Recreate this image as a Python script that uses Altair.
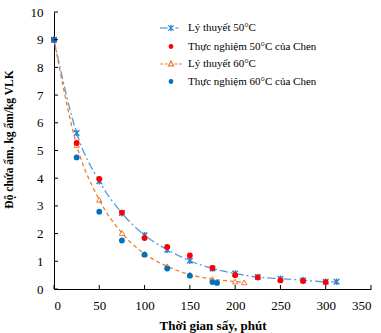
import altair as alt
import pandas as pd

# ---- data ----
t_th50 = [0, 25, 50, 75, 100, 125, 150, 175, 200, 225, 250, 275, 300, 312]
v_th50 = [9.0, 5.63, 3.89, 2.74, 1.94, 1.42, 1.02, 0.74, 0.56, 0.43, 0.37, 0.32, 0.26, 0.26]
t_ex50 = [0, 25, 50, 75, 100, 125, 150, 175, 200, 225, 250, 275, 300]
v_ex50 = [9.0, 5.27, 3.97, 2.76, 1.84, 1.52, 1.21, 0.76, 0.50, 0.42, 0.31, 0.29, 0.25]
t_th60 = [0, 25, 50, 75, 100, 125, 150, 175, 200, 210]
v_th60 = [9.0, 5.20, 3.22, 2.02, 1.27, 0.82, 0.52, 0.36, 0.27, 0.24]
t_ex60 = [0, 25, 50, 75, 100, 125, 150, 175, 180]
v_ex60 = [9.0, 4.75, 2.79, 1.75, 1.24, 0.74, 0.48, 0.25, 0.22]

series_names = [
    "Lý thuyết 50°C",
    "Thực nghiệm 50°C của Chen",
    "Lý thuyết 60°C",
    "Thực nghiệm 60°C của Chen",
]
x_ticks = [0, 50, 100, 150, 200, 250, 300, 350]
y_ticks = [0, 1, 2, 3, 4, 5, 6, 7, 8, 9, 10]

x_title = "Thời gian sấy, phút"
y_title = "Độ chứa ẩm, kg ẩm/kg VLK"

# ---- styles ----
C_TH50_LINE = "#5B9BD5"
C_TH50_MARK = "#2F7FD0"
C_EX50 = "#FF0000"
C_TH60 = "#ED7D31"
C_EX60 = "#0070C0"
FONT = "Liberation Serif"

W, H = 317, 277

def frame(ts, vs, name):
    return pd.DataFrame({"t": ts, "v": vs, "series": name})

df = pd.concat([
    frame(t_th50, v_th50, series_names[0]),
    frame(t_ex50, v_ex50, series_names[1]),
    frame(t_th60, v_th60, series_names[2]),
    frame(t_ex60, v_ex60, series_names[3]),
], ignore_index=True)

xs = alt.Scale(domain=[0, 350], nice=False, zero=False)
ys = alt.Scale(domain=[0, 10], nice=False)

X = alt.X("t:Q", scale=xs, title=x_title,
          axis=alt.Axis(values=x_ticks, ticks=False, grid=False, domainColor="black",
                        labelFont=FONT, labelFontSize=13, labelColor="black",
                        labelPadding=10, titleFont=FONT, titleFontSize=13,
                        titleFontWeight="bold", titleColor="black", titlePadding=7))
Y = alt.Y("v:Q", scale=ys, title=y_title,
          axis=alt.Axis(values=y_ticks, ticks=False, grid=False, domainColor="black",
                        labelFont=FONT, labelFontSize=13, labelColor="black",
                        labelPadding=11, titleFont=FONT, titleFontSize=11.5,
                        titleFontWeight="bold", titleColor="black",
                        titleX=-40, titleY=127))

base = alt.Chart(df)

def sel(i):
    return alt.datum.series == series_names[i]

line50 = base.transform_filter(sel(0)).mark_line(
    color=C_TH50_LINE, strokeWidth=1.3, strokeDash=[8, 3, 2, 3], interpolate="monotone"
).encode(x=X, y=Y)
line60 = base.transform_filter(sel(2)).mark_line(
    color=C_TH60, strokeWidth=1.3, strokeDash=[4, 3], interpolate="monotone"
).encode(x=X, y=Y)

star_path = "M-1,-1L1,1M-1,1L1,-1M0,-1.2L0,1.2"
pts_th50 = base.transform_filter(sel(0)).mark_point(
    shape=star_path, size=30, stroke=C_TH50_MARK, strokeWidth=1.4, opacity=1
).encode(x=X, y=Y)
pts_th60 = base.transform_filter(sel(2)).mark_point(
    shape="triangle-up", size=30, stroke=C_TH60, strokeWidth=1.0, opacity=1
).encode(x=X, y=Y)
pts_ex50 = base.transform_filter(sel(1)).mark_point(
    shape="circle", size=34, filled=True, color=C_EX50, opacity=1
).encode(x=X, y=Y)
pts_ex60 = base.transform_filter(sel(3)).mark_point(
    shape="circle", size=34, filled=True, color=C_EX60, opacity=1
).encode(x=X, y=Y)

# inner tick marks (positions come from the tick lists through the shared scales)
xt = alt.Chart(pd.DataFrame({"t": x_ticks})).mark_rule(color="black", strokeWidth=1).encode(
    x=X, y=alt.value(H), y2=alt.value(H - 4))
yt = alt.Chart(pd.DataFrame({"v": y_ticks})).mark_rule(color="black", strokeWidth=1).encode(
    y=Y, x=alt.value(0), x2=alt.value(4))

# legend (symbols drawn from the series scale only)
leg_paths = [
    "M-1.22,0H-0.38M-0.3,-0.3L0.3,0.3M-0.3,0.3L0.3,-0.3M0,-0.36L0,0.36M0.5,0H0.82",
    "M-0.2,0A0.2,0.2 0 1,0 0.2,0A0.2,0.2 0 1,0 -0.2,0Z",
    "M-1.22,0H-0.88M-0.7,0H-0.38M0.38,0H0.7M0.88,0H1.22M0,-0.32L0.28,0.2L-0.28,0.2Z",
    "M-0.2,0A0.2,0.2 0 1,0 0.2,0A0.2,0.2 0 1,0 -0.2,0Z",
]
leg_fill = ["transparent", C_EX50, "transparent", C_EX60]
leg_stroke = [C_TH50_MARK, C_EX50, C_TH60, C_EX60]

legend = alt.Legend(title=None, orient="none", legendX=107, legendY=6,
                    labelFont=FONT, labelFontSize=11, labelColor="black",
                    labelOffset=7, symbolSize=324, symbolStrokeWidth=1.2,
                    symbolOpacity=1, rowPadding=2.5)

leg = base.transform_filter("datum.t < 0").mark_point(size=324).encode(
    x=X, y=Y,
    shape=alt.Shape("series:N", scale=alt.Scale(domain=series_names, range=leg_paths), legend=legend),
    fill=alt.Fill("series:N", scale=alt.Scale(domain=series_names, range=leg_fill), legend=legend),
    stroke=alt.Stroke("series:N", scale=alt.Scale(domain=series_names, range=leg_stroke), legend=legend),
)

chart = alt.layer(
    line50, line60, pts_th50, pts_th60, pts_ex50, pts_ex60, xt, yt, leg
).properties(
    width=W, height=H,
    autosize=alt.AutoSizeParams(type="none"),
    padding={"left": 54, "top": 12, "right": 10, "bottom": 44},
).configure_view(stroke=None).configure_axis(domainWidth=1)

chart.save("out.html", embed_options={"renderer": "svg", "actions": False})
